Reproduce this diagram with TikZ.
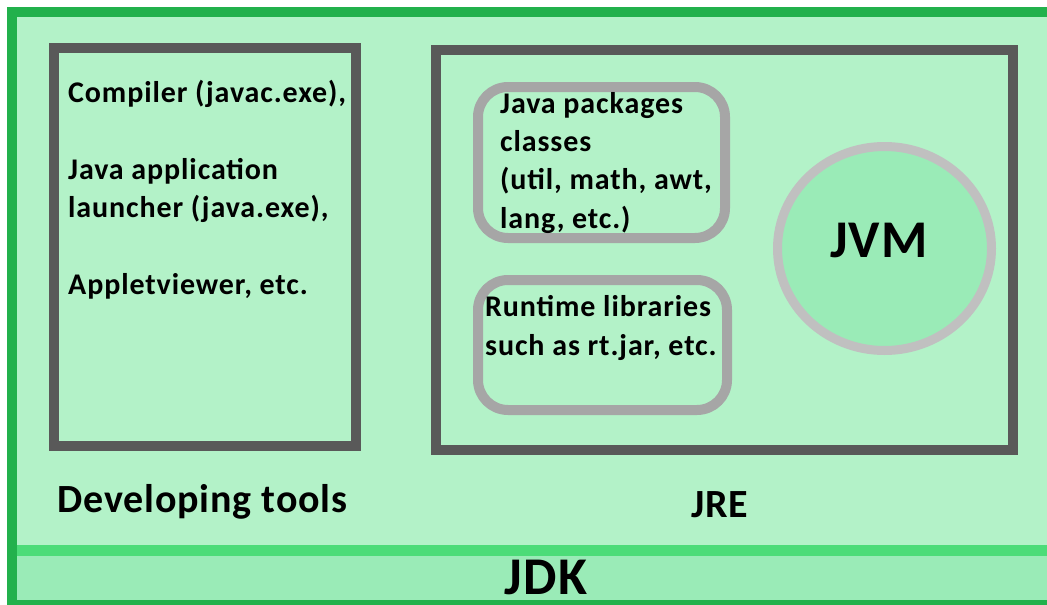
\documentclass[tikz,border=0pt]{standalone}
\usepackage{fontspec}
\setmainfont{Carlito}
\usetikzlibrary{shapes.geometric}
\definecolor{jdkfill}{HTML}{B3F2C8}
\definecolor{bandfill}{HTML}{9AEBB7}
\definecolor{bandline}{HTML}{4CDC78}
\definecolor{jdkframe}{HTML}{22B14C}
\definecolor{boxgray}{HTML}{595959}
\definecolor{roundgray}{HTML}{A6A6A6}
\definecolor{jvmgray}{HTML}{C0C0C0}
\begin{document}
\begin{tikzpicture}[x=1pt,y=-1pt,
  darkbox/.style={draw=boxgray,line width=10pt,minimum width=#1},
  roundbox/.style={draw=roundgray,line width=10pt,rounded corners=30pt},
  boxtext/.style={anchor=base west,align=left,inner sep=0pt,
    font=\bfseries\fontsize{30}{38.3}\selectfont\addfontfeature{LetterSpace=3}},
  bigtext/.style={anchor=base,inner sep=0pt,
    font=\bfseries\fontsize{#1}{#1}\selectfont\addfontfeature{LetterSpace=2}}]
\useasboundingbox (0,0) rectangle (1047,605);
\clip (0,0) rectangle (1047,605);
\fill[white] (0,0) rectangle (1047,605);
% JDK frame and the band at the bottom
\fill[jdkfill] (7,7) rectangle (1060,610);
\fill[bandfill] (12,550) rectangle (1060,610);
\draw[bandline,line width=11pt] (12,550) -- (1060,550);
\draw[jdkframe,line width=10pt] (1060,12) -- (12,12) -- (12,605) -- (1060,605);
% developing tools (text anchored on its last line)
\node[darkbox=302,minimum height=398] (tools) at (205,247) {};
\node[boxtext] (toolstext) at (68,294) {Compiler (javac.exe),\\[38.3pt]
Java application\\
launcher (java.exe),\\[38.3pt]
Appletviewer, etc.};
\node[bigtext=40] (toolsname) at (202.5,512) {Developing tools};
% JRE
\node[darkbox=577,minimum height=400] (jre) at (724.5,250) {};
\node[roundbox,minimum width=247,minimum height=151] (pkgs) at (601.5,162.5) {};
\node[boxtext] (pkgstext) at (500,228) {Java packages\\
classes\\
(util, math, awt,\\
lang, etc.)};
\node[roundbox,minimum width=249,minimum height=130] (libs) at (602.5,345) {};
\node[boxtext] (libstext) at (485,355) {Runtime libraries\\
such as rt.jar, etc.};
\node[ellipse,draw=jvmgray,fill=bandfill,line width=9pt,minimum width=214,minimum height=204] (jvm) at (884.5,248.5) {};
\node[bigtext=53] (jvmname) at (879,257) {JVM};
\node[bigtext=40] (jrename) at (719.5,517) {JRE};
\node[bigtext=53] (jdkname) at (546,594) {JDK};
\end{tikzpicture}
\end{document}
